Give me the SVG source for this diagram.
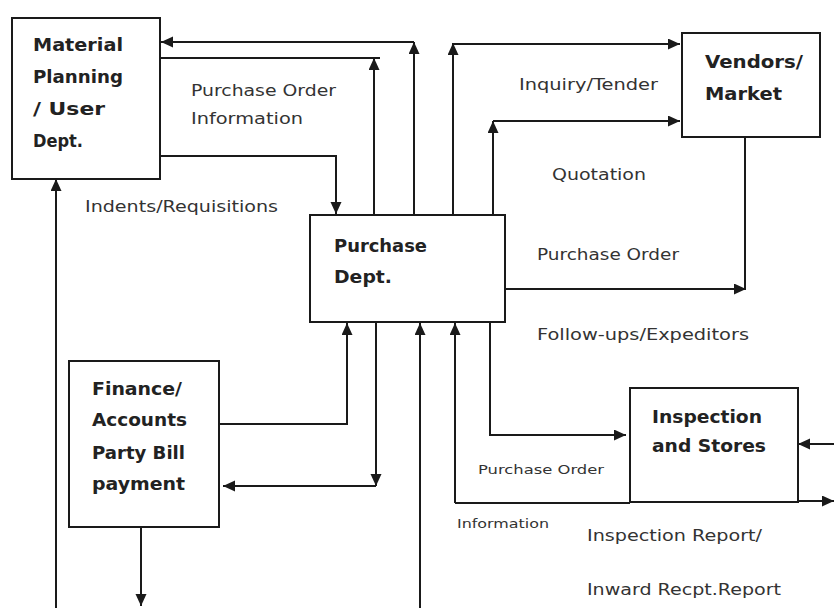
<svg xmlns="http://www.w3.org/2000/svg" width="834" height="608" viewBox="0 0 834 608">
<defs>
<marker id="ah" markerUnits="userSpaceOnUse" markerWidth="13" markerHeight="12" refX="12" refY="5.5" orient="auto">
<path d="M0,0 L12,5.5 L0,11 z" fill="#1a1a1a"/>
</marker>
<style>
.box{fill:#fff;stroke:#1a1a1a;stroke-width:2}
.c{fill:none;stroke:#1a1a1a;stroke-width:2}
.a{fill:none;stroke:#1a1a1a;stroke-width:2;marker-end:url(#ah)}
.b{font-family:"DejaVu Sans",sans-serif;font-weight:bold;font-size:17px;fill:#222}
.t{font-family:"DejaVu Sans",sans-serif;font-size:16px;fill:#333}
.s{font-family:"DejaVu Sans",sans-serif;font-size:13px;fill:#333}
</style>
</defs>
<rect width="834" height="608" fill="#fff"/>
<g id="connectors">
<path class="a" d="M414,215 V42"/>
<path class="a" d="M414,42 H161"/>
<path class="c" d="M160,58 H380"/>
<path class="a" d="M374,215 V58"/>
<path class="a" d="M160,156 H336 V214"/>
<path class="a" d="M453,215 V43"/>
<path class="a" d="M453,44 H680"/>
<path class="a" d="M493,215 V121"/>
<path class="a" d="M493,121 H680"/>
<path class="c" d="M745,137 V289"/>
<path class="a" d="M505,289 H746"/>
<path class="a" d="M220,424 H347 V323"/>
<path class="a" d="M376,322 V486"/>
<path class="a" d="M376,486 H223"/>
<path class="a" d="M141,527 V606"/>
<path class="a" d="M56,608 V179"/>
<path class="a" d="M420,608 V323"/>
<path class="a" d="M455,503 V323"/>
<path class="c" d="M455,503 H630"/>
<path class="a" d="M490,322 V435 H626"/>
<path class="a" d="M834,444 H798"/>
<path class="a" d="M798,501 H834"/>
</g>
<g id="material-planning">
<rect class="box" x="12" y="18" width="148" height="161"/>
<text class="b" x="33" y="51" textLength="90" lengthAdjust="spacingAndGlyphs">Material</text>
<text class="b" x="33" y="83" textLength="90" lengthAdjust="spacingAndGlyphs">Planning</text>
<text class="b" x="33" y="115" textLength="72" lengthAdjust="spacingAndGlyphs">/  User</text>
<text class="b" x="33" y="147" textLength="50" lengthAdjust="spacingAndGlyphs">Dept.</text>
</g>
<g id="vendors">
<rect class="box" x="682" y="33" width="138" height="104"/>
<text class="b" x="705" y="68" textLength="98" lengthAdjust="spacingAndGlyphs">Vendors/</text>
<text class="b" x="705" y="100" textLength="77" lengthAdjust="spacingAndGlyphs">Market</text>
</g>
<g id="purchase-dept">
<rect class="box" x="310" y="215" width="195" height="107"/>
<text class="b" x="334" y="252" textLength="93" lengthAdjust="spacingAndGlyphs">Purchase</text>
<text class="b" x="334" y="283" textLength="58" lengthAdjust="spacingAndGlyphs">Dept.</text>
</g>
<g id="finance">
<rect class="box" x="69" y="361" width="150" height="166"/>
<text class="b" x="92" y="395" textLength="90" lengthAdjust="spacingAndGlyphs">Finance/</text>
<text class="b" x="92" y="426" textLength="95" lengthAdjust="spacingAndGlyphs">Accounts</text>
<text class="b" x="92" y="459" textLength="93" lengthAdjust="spacingAndGlyphs">Party Bill</text>
<text class="b" x="92" y="490" textLength="93" lengthAdjust="spacingAndGlyphs">payment</text>
</g>
<g id="inspection">
<rect class="box" x="630" y="388" width="168" height="114"/>
<text class="b" x="652" y="423" textLength="110" lengthAdjust="spacingAndGlyphs">Inspection</text>
<text class="b" x="652" y="452" textLength="114" lengthAdjust="spacingAndGlyphs">and Stores</text>
</g>
<g id="labels">
<text class="t" x="191" y="96" textLength="145" lengthAdjust="spacingAndGlyphs">Purchase Order</text>
<text class="t" x="191" y="124" textLength="112" lengthAdjust="spacingAndGlyphs">Information</text>
<text class="t" x="85" y="212" textLength="193" lengthAdjust="spacingAndGlyphs">Indents/Requisitions</text>
<text class="t" x="519" y="90" textLength="139" lengthAdjust="spacingAndGlyphs">Inquiry/Tender</text>
<text class="t" x="552" y="180" textLength="94" lengthAdjust="spacingAndGlyphs">Quotation</text>
<text class="t" x="537" y="260" textLength="142" lengthAdjust="spacingAndGlyphs">Purchase Order</text>
<text class="t" x="537" y="340" textLength="212" lengthAdjust="spacingAndGlyphs">Follow-ups/Expeditors</text>
<text class="s" x="478" y="474" textLength="126" lengthAdjust="spacingAndGlyphs">Purchase  Order</text>
<text class="s" x="457" y="528" textLength="92" lengthAdjust="spacingAndGlyphs">Information</text>
<text class="t" x="587" y="541" textLength="175" lengthAdjust="spacingAndGlyphs">Inspection Report/</text>
<text class="t" x="587" y="595" textLength="194" lengthAdjust="spacingAndGlyphs">Inward Recpt.Report</text>
</g>
</svg>
